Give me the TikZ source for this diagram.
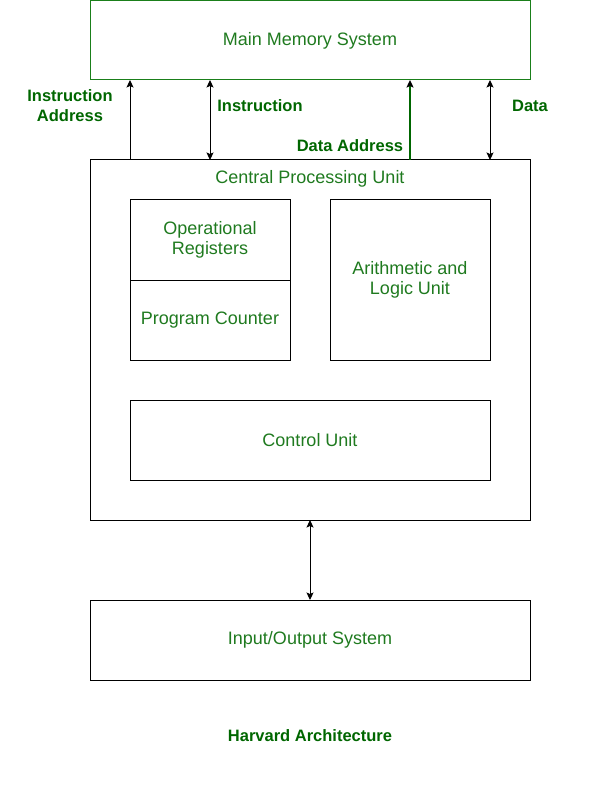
\documentclass[tikz,border=0pt]{standalone}
\usepackage{fontspec}
\setmainfont{Liberation Sans}
\usepackage{xcolor}
\definecolor{TextGreen}{HTML}{1F7A1F}
\definecolor{LabelGreen}{HTML}{006600}
\definecolor{EdgeGreen}{HTML}{1A7F1A}
\usepackage{tikz}
\usetikzlibrary{arrows.meta,positioning}

\begin{document}
\begin{tikzpicture}[
  x=1pt, y=-1pt,
  box/.style={rectangle, draw, line width=1pt, inner sep=0pt, outer sep=0pt, align=center, text=TextGreen, font=\fontsize{18}{20.5}\selectfont},
  txt/.style={text=TextGreen, font=\fontsize{18}{20.5}\selectfont},
  lbl/.style={text=LabelGreen, align=center, font=\bfseries\fontsize{16.5}{20}\selectfont},
  arrow/.style={-{Stealth[length=7.5pt,width=7pt,inset=1.5pt,black]}, line width=1pt},
  dblarrow/.style={{Stealth[length=7.5pt,width=7pt,inset=1.5pt]}-{Stealth[length=7.5pt,width=7pt,inset=1.5pt]}, line width=1pt}
]
  \useasboundingbox (0,0) rectangle (601,791);

  \node[box, draw=EdgeGreen, minimum width=440pt, minimum height=79pt] (mem) at (310,40.5) {Main Memory System};
  \node[box, minimum width=440pt, minimum height=360pt] (cpu) at (310,340) {};
  \node[txt, below=7pt of cpu.north] (cpulbl) {Central Processing Unit};
  \node[box, minimum width=160pt, minimum height=80pt] (opreg) at (210,240) {Operational\\Registers};
  \node[box, minimum width=160pt, minimum height=80pt, below=0pt of opreg] (pc) {Program Counter};
  \node[box, minimum width=160pt, minimum height=160pt] (alu) at (410,280) {Arithmetic and\\Logic Unit};
  \node[box, minimum width=360pt, minimum height=80pt] (cu) at (310,440) {Control Unit};
  \node[box, minimum width=440pt, minimum height=80pt] (io) at (310,640) {Input/Output System};

  \node[lbl] (instaddr) at (70,106) {Instruction\\Address};
  \node[lbl] (inst) at (260,106) {Instruction};
  \node[lbl] (dataaddr) at (350,146) {Data Address};
  \node[lbl] (data) at (530,106) {Data};
  \node[lbl] (title) at (310,736) {Harvard Architecture};

  \draw[arrow] (opreg.west |- cpu.north) -- (opreg.west |- mem.south);
  \draw[dblarrow] (opreg.north |- cpu.north) -- (opreg.north |- mem.south);
  \draw[arrow, draw=LabelGreen, line width=2pt] (alu.north |- cpu.north) -- (alu.north |- mem.south);
  \draw[dblarrow] (alu.east |- cpu.north) -- (alu.east |- mem.south);
  \draw[dblarrow] (cpu.south) -- (io.north);
\end{tikzpicture}
\end{document}
